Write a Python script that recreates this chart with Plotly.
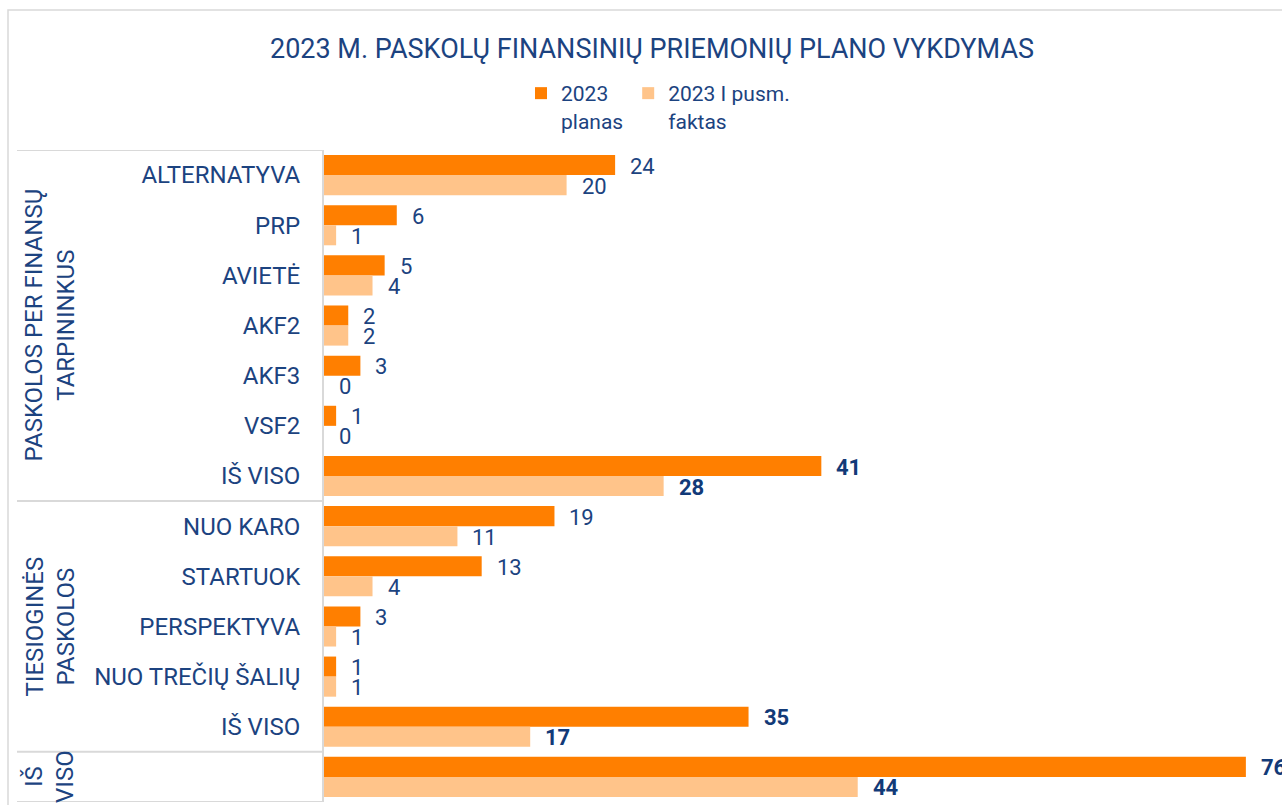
import plotly.graph_objects as go

# ---------------- data ----------------
categories = ["ALTERNATYVA", "PRP", "AVIETĖ", "AKF2", "AKF3", "VSF2", "IŠ VISO",
              "NUO KARO", "STARTUOK", "PERSPEKTYVA", "NUO TREČIŲ ŠALIŲ", "IŠ VISO", ""]
plan_2023 = [24, 6, 5, 2, 3, 1, 41, 19, 13, 3, 1, 35, 76]
fact_2023_h1 = [20, 1, 4, 2, 0, 0, 28, 11, 4, 1, 1, 17, 44]
total_rows = [6, 11, 12]
groups = [
    ("PASKOLOS PER FINANSŲ<br>TARPININKUS", 0, 6),
    ("TIESIOGINĖS<br>PASKOLOS", 7, 11),
    ("IŠ<br>VISO", 12, 12),
]
series_names = ["2023<br>planas", "2023 I pusm.<br>faktas"]
title_text = "2023 M. PASKOLŲ FINANSINIŲ PRIEMONIŲ PLANO VYKDYMAS"

# ---------------- style ----------------
W, H = 1282, 805
PL, PR, PT, PB = 324, 1282, 150, 802   # plot area in page pixels
ML, MT = PL, PT
MR, MB = W - PR, H - PB
PW, PH = W - ML - MR, H - MT - MB
FONT = "Roboto"
NAVY = "#1c4380"
NAVY_DARK = "#123a78"
DARK_OR = "#ff7f00"
LIGHT_OR = "#ffc48a"
GRID = "#d9d9d9"
XMAX = PW / 12.13


def px_x(px):
    """page pixel x -> paper x"""
    return (px - PL) / PW


def px_y(py):
    """page pixel y -> paper y"""
    return (PB - py) / PH


rows = list(range(len(categories)))

fig = go.Figure()
fig.add_trace(go.Bar(y=rows, x=plan_2023, orientation="h", name=series_names[0],
                     marker=dict(color=DARK_OR, line=dict(width=0))))
fig.add_trace(go.Bar(y=rows, x=fact_2023_h1, orientation="h", name=series_names[1],
                     marker=dict(color=LIGHT_OR, line=dict(width=0))))

annotations = []
# data labels
for vals, ysh in ((plan_2023, 9), (fact_2023_h1, -11)):
    for i, v in enumerate(vals):
        bold = i in total_rows
        annotations.append(dict(
            x=v, y=i, xref="x", yref="y", text=f"<b>{v}</b>" if bold else str(v),
            showarrow=False, xanchor="left", yanchor="middle", xshift=13, yshift=ysh,
            font=dict(family=FONT, size=22, color=NAVY_DARK if bold else NAVY),
        ))
# group labels
for label, a, b in groups:
    annotations.append(dict(
        x=px_x(50), y=(a + b) / 2, xref="paper", yref="y", text=label,
        showarrow=False, textangle=-90, xanchor="center", yanchor="middle",
        font=dict(family=FONT, size=24, color=NAVY),
    ))

shapes = []
# outer chart border
shapes.append(dict(type="rect", xref="paper", yref="paper",
                   x0=px_x(8), x1=px_x(1400), y0=px_y(900), y1=px_y(10),
                   line=dict(color=GRID, width=1.5), fillcolor="rgba(0,0,0,0)", layer="below"))
# category-table separators
for yy in (-0.5, 6.5, 11.5, 12.5):
    shapes.append(dict(type="line", xref="paper", yref="y",
                       x0=px_x(17), x1=px_x(323), y0=yy, y1=yy,
                       line=dict(color=GRID, width=2)))

fig.update_layout(
    width=W, height=H,
    margin=dict(l=ML, r=MR, t=MT, b=MB),
    paper_bgcolor="white", plot_bgcolor="white",
    barmode="group", bargap=0.2, bargroupgap=0,
    font=dict(family=FONT, color=NAVY),
    title=dict(text=title_text, x=652 / W, xref="container", xanchor="center",
               y=1 - 49 / H, yref="container", yanchor="middle",
               font=dict(family=FONT, size=27, color=NAVY)),
    legend=dict(orientation="h", x=px_x(521), xanchor="left", y=px_y(73), yanchor="top",
                font=dict(family=FONT, size=21, color=NAVY), valign="top",
                traceorder="normal", itemclick=False, bgcolor="rgba(0,0,0,0)"),
    xaxis=dict(range=[0, XMAX], visible=False, fixedrange=True),
    yaxis=dict(tickmode="array", tickvals=rows, ticktext=categories,
               range=[len(categories) - 0.5, -0.5], showgrid=False, zeroline=False,
               showline=True, linecolor=GRID, linewidth=2, ticks="",
               ticklabelstandoff=17,
               tickfont=dict(family=FONT, size=24, color=NAVY), fixedrange=True),
    annotations=annotations,
    shapes=shapes,
    showlegend=True,
)

fig.write_html(
    "out.html",
    config={"displayModeBar": False},
    post_script="document.body.style.margin='0';document.body.style.overflow='hidden';",
)
